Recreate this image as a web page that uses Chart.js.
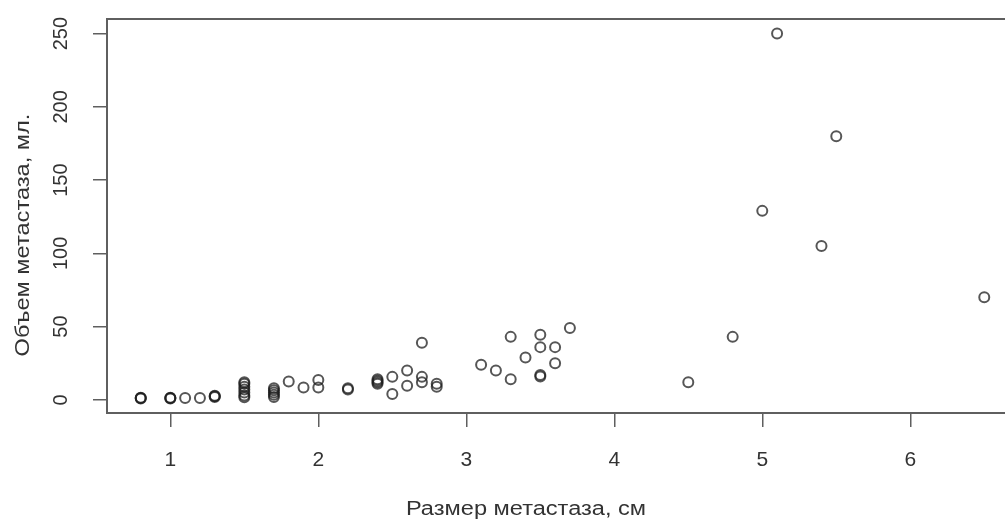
<!DOCTYPE html>
<html>
<head>
<meta charset="utf-8">
<script src="https://cdn.jsdelivr.net/npm/chart.js@4.4.1/dist/chart.umd.min.js"></script>
<style>
    html, body { margin: 0; padding: 0; background: #fff; overflow: hidden; }
    canvas { display: block; }
</style>
</head>
<body>
<canvas id="razmer" width="1030" height="520"></canvas>
<script>
// размер метастаза (см) и объем (мл), по точкам
const sizeCm = [
    0.8, 0.8, 0.8, 1.0, 1.0, 1.0, 1.1, 1.2, 1.3, 1.3, 1.3,
    1.5, 1.5, 1.5, 1.5, 1.5, 1.5, 1.5, 1.7, 1.7, 1.7, 1.7, 1.7,
    1.8, 1.9, 2.0, 2.0, 2.2, 2.2, 2.4, 2.4, 2.4, 2.4,
    2.5, 2.5, 2.6, 2.6, 2.7, 2.7, 2.7, 2.8, 2.8,
    3.1, 3.2, 3.3, 3.3, 3.4, 3.5, 3.5, 3.5, 3.5, 3.6, 3.6, 3.7,
    4.5, 4.8, 5.0, 5.1, 5.4, 5.5, 6.5
];
const volumeMl = [
    1.0, 1.2, 1.4, 1.0, 1.2, 1.4, 1.2, 1.2, 2.0, 2.4, 2.8,
    1.8, 3, 5, 7, 9, 11, 12, 2, 3.5, 5, 6.5, 8,
    12.5, 8.4, 13.5, 8.4, 7, 8, 11, 12, 13, 14,
    15.7, 4, 20, 9.6, 39, 15.7, 12, 9, 11,
    24, 20, 43, 14, 29, 44.5, 36, 16, 17, 36, 25, 49,
    12, 43, 129, 250, 105, 180, 70
];
const xTicks = [1, 2, 3, 4, 5, 6];
const yTicks = [0, 50, 100, 150, 200, 250];

const AXIS_COLOR = '#5f5f5f';
const TEXT_COLOR = '#333333';
const FONT = '"Liberation Sans", Arial, sans-serif';

let points = [];
for ( let i = 0; i < sizeCm.length; i++ )
{
    points.push( { x: sizeCm[ i ], y: volumeMl[ i ] } );
}

// подписи оси Y повернуты, как в R; названия осей тоже рисуем сами
const rTextPlugin = {
    id: 'rText',
    afterDraw: function ( chart )
    {
        let ctx = chart.ctx;
        let yScale = chart.scales.y;
        ctx.save();
        ctx.fillStyle = TEXT_COLOR;
        ctx.font = '20px ' + FONT;
        ctx.textAlign = 'center';
        ctx.textBaseline = 'middle';
        yTicks.forEach( function ( v )
        {
            ctx.save();
            ctx.translate( 61, yScale.getPixelForValue( v ) );
            ctx.rotate( -Math.PI / 2 );
            ctx.fillText( String( v ), 0, 0 );
            ctx.restore();
        } );

        // шрифт подписей осей чуть растянут по ширине
        ctx.font = '20px ' + FONT;
        ctx.save();
        ctx.translate( 23, 235 );
        ctx.rotate( -Math.PI / 2 );
        ctx.scale( 1.18, 1 );
        ctx.fillText( 'Объем метастаза, мл.', 0, 0 );
        ctx.restore();

        ctx.save();
        ctx.translate( 526, 509 );
        ctx.scale( 1.18, 1 );
        ctx.fillText( 'Размер метастаза, см', 0, 0 );
        ctx.restore();
        ctx.restore();
    }
};

// верхняя и правая стороны рамки
const boxPlugin = {
    id: 'box',
    afterDraw: function ( chart )
    {
        let a = chart.chartArea;
        let ctx = chart.ctx;
        ctx.save();
        ctx.strokeStyle = AXIS_COLOR;
        ctx.lineWidth = 2;
        ctx.beginPath();
        ctx.moveTo( a.left, a.top );
        ctx.lineTo( a.right, a.top );
        ctx.lineTo( a.right, a.bottom );
        ctx.stroke();
        ctx.restore();
    }
};

const config = {
    type: 'scatter',
    data: {
        datasets: [ {
            label: 'Объем',
            data: points,
            pointStyle: 'circle',
            pointRadius: 5,
            pointHoverRadius: 5,
            borderWidth: 2,
            borderColor: 'rgba(30,30,30,0.75)',
            backgroundColor: 'rgba(0,0,0,0)'
        } ]
    },
    options: {
        responsive: false,
        animation: false,
        layout: {
            padding: { left: 0, top: 19, right: 12, bottom: 0 }
        },
        plugins: {
            legend: { display: false },
            title: { display: false },
            tooltip: { enabled: false }
        },
        scales: {
            x: {
                type: 'linear',
                min: 0.572,
                max: 6.728,
                afterBuildTicks: function ( scale )
                {
                    scale.ticks = xTicks.map( function ( v ) { return { value: v }; } );
                },
                afterFit: function ( scale )
                {
                    scale.height = 107;
                },
                ticks: {
                    color: TEXT_COLOR,
                    font: { family: FONT, size: 21 },
                    padding: 21,
                    maxRotation: 0,
                    autoSkip: false
                },
                grid: {
                    drawOnChartArea: false,
                    drawTicks: true,
                    tickLength: 14,
                    color: AXIS_COLOR,
                    lineWidth: 1.5
                },
                border: { display: true, color: AXIS_COLOR, width: 2 }
            },
            y: {
                type: 'linear',
                min: -8.96,
                max: 259.96,
                afterBuildTicks: function ( scale )
                {
                    scale.ticks = yTicks.map( function ( v ) { return { value: v }; } );
                },
                afterFit: function ( scale )
                {
                    scale.width = 107;
                },
                ticks: {
                    color: 'rgba(0,0,0,0)',
                    font: { family: FONT, size: 20 }
                },
                grid: {
                    drawOnChartArea: false,
                    drawTicks: true,
                    tickLength: 14,
                    color: AXIS_COLOR,
                    lineWidth: 1.5
                },
                border: { display: true, color: AXIS_COLOR, width: 2 }
            }
        }
    },
    plugins: [ rTextPlugin, boxPlugin ]
};

new Chart( document.getElementById( 'razmer' ).getContext( '2d' ), config );
</script>
</body>
</html>
